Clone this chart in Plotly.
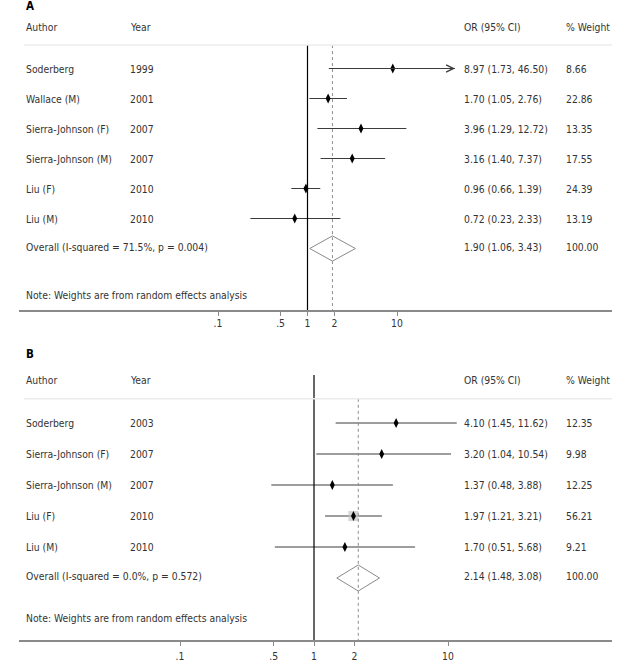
import math
import plotly.graph_objects as go

# ---------------- data ----------------
authors_a = ["Soderberg", "Wallace (M)", "Sierra-Johnson (F)", "Sierra-Johnson (M)", "Liu (F)", "Liu (M)"]
years_a = ["1999", "2001", "2007", "2007", "2010", "2010"]
or_a = [8.97, 1.70, 3.96, 3.16, 0.96, 0.72]
lo_a = [1.73, 1.05, 1.29, 1.40, 0.66, 0.23]
hi_a = [46.50, 2.76, 12.72, 7.37, 1.39, 2.33]
w_a = [8.66, 22.86, 13.35, 17.55, 24.39, 13.19]
overall_a = [1.90, 1.06, 3.43]
overall_label_a = "Overall (I-squared = 71.5%, p = 0.004)"

authors_b = ["Soderberg", "Sierra-Johnson (F)", "Sierra-Johnson (M)", "Liu (F)", "Liu (M)"]
years_b = ["2003", "2007", "2007", "2010", "2010"]
or_b = [4.10, 3.20, 1.37, 1.97, 1.70]
lo_b = [1.45, 1.04, 0.48, 1.21, 0.51]
hi_b = [11.62, 10.54, 3.88, 3.21, 5.68]
w_b = [12.35, 9.98, 12.25, 56.21, 9.21]
overall_b = [2.14, 1.48, 3.08]
overall_label_b = "Overall (I-squared = 0.0%, p = 0.572)"

tick_vals = [0.1, 0.5, 1, 2, 10]
tick_text = [".1", ".5", "1", "2", "10"]
note_text = "Note: Weights are from random effects analysis"

# ---------------- style ----------------
FONT = "DejaVu Sans Condensed, Liberation Sans Narrow, sans-serif"
FS = 10.3
TXT = "#333333"
W, H = 620, 668
CLIP_A = 44.5  # display limit of panel A (arrow beyond)

fig = go.Figure()


def panel(xa, ya, authors, years, ors, los, his, ws, overall, overall_label,
          label, label_row, clip, line_top, ay_name):
    n = len(authors)
    rows = list(range(1, n + 1))
    orow = n + 1
    # CI lines
    for r, o, lo, hi in zip(rows, ors, los, his):
        top = min(hi, clip) if clip else hi
        fig.add_trace(go.Scatter(x=[lo, top], y=[r, r], mode="lines",
                                 line=dict(color="#3c3c3c", width=1),
                                 xaxis=xa, yaxis=ya, hoverinfo="skip", showlegend=False))
        if clip and hi > clip:
            fig.add_annotation(x=math.log10(clip), y=r, ax=math.log10(lo), ay=r,
                               xref=xa, yref=ya, axref=xa, ayref=ya, text="",
                               showarrow=True, arrowhead=5, arrowsize=1.6, arrowwidth=0.9,
                               arrowcolor="#3c3c3c", standoff=0, startstandoff=0)
    # weight boxes
    fig.add_trace(go.Scatter(x=ors, y=rows, mode="markers",
                             marker=dict(symbol="square", color="#c4c4c4",
                                         size=[w * 0.18 for w in ws], line=dict(width=0)),
                             xaxis=xa, yaxis=ya, hoverinfo="skip", showlegend=False))
    # point estimates
    fig.add_trace(go.Scatter(x=ors, y=rows, mode="markers",
                             marker=dict(symbol="diamond-tall", color="black", size=7),
                             xaxis=xa, yaxis=ya, hoverinfo="skip", showlegend=False))
    # null line
    fig.add_trace(go.Scatter(x=[1, 1], y=[line_top, 100], mode="lines",
                             line=dict(color="black", width=1.2),
                             xaxis=xa, yaxis=ya, hoverinfo="skip", showlegend=False))
    # overall dotted line
    fig.add_trace(go.Scatter(x=[overall[0], overall[0]], y=[0.22, 100], mode="lines",
                             line=dict(color="#8c8c8c", width=1, dash="dot"),
                             xaxis=xa, yaxis=ya, hoverinfo="skip", showlegend=False))
    # diamond
    est, lo, hi = overall
    fig.add_trace(go.Scatter(x=[lo, est, hi, est, lo], y=[orow, orow - 0.42, orow, orow + 0.42, orow],
                             mode="lines", line=dict(color="#8a8a8a", width=1),
                             xaxis=xa, yaxis=ya, hoverinfo="skip", showlegend=False))
    # separator
    fig.add_shape(type="line", xref="paper", yref=ay_name, x0=24 / W, x1=612 / W, y0=0.22, y1=0.22,
                  line=dict(color="#ececec", width=1.5))

    # texts
    def txt(x, y, s, size=FS, color=TXT):
        fig.add_annotation(x=x / W, y=y, xref="paper", yref=ay_name, text=s, showarrow=False,
                           xanchor="left", yanchor="middle",
                           font=dict(family=FONT, size=size, color=color))
    txt(24, label_row, "<b>%s</b>" % label, size=11.5, color="black")
    txt(24, -0.39, "Author")
    txt(128, -0.39, "Year")
    txt(462, -0.39, "OR (95% CI)")
    txt(564, -0.39, "% Weight")
    for r, a, y, o, lo_, hi_, w in zip(rows, authors, years, ors, los, his, ws):
        txt(24, r, a)
        txt(128, r, y)
        txt(462, r, "%.2f (%.2f, %.2f)" % (o, lo_, hi_))
        txt(564, r, "%.2f" % w)
    txt(24, orow - 0.05, overall_label)
    txt(462, orow - 0.05, "%.2f (%.2f, %.2f)" % (est, lo, hi))
    txt(564, orow - 0.05, "100.00")


panel("x", "y", authors_a, years_a, or_a, lo_a, hi_a, w_a, overall_a, overall_label_a,
      "A", -1.08, CLIP_A, 0.22, "y")
panel("x2", "y2", authors_b, years_b, or_b, lo_b, hi_b, w_b, overall_b, overall_label_b,
      "B", -1.21, None, -0.55, "y2")

fig.add_annotation(x=24 / W, y=8.55, xref="paper", yref="y", text=note_text, showarrow=False,
                   xanchor="left", yanchor="middle", font=dict(family=FONT, size=FS, color=TXT))
fig.add_annotation(x=24 / W, y=7.29, xref="paper", yref="y2", text=note_text, showarrow=False,
                   xanchor="left", yanchor="middle", font=dict(family=FONT, size=FS, color=TXT))

xcommon = dict(type="log", showgrid=False, zeroline=False, showline=True, linecolor="#8a8a8a",
               linewidth=1.5, ticks="outside", tickcolor="#8a8a8a", ticklen=4, tickwidth=1,
               tickvals=tick_vals, ticktext=tick_text, domain=[19 / W, 612 / W],
               tickfont=dict(family=FONT, size=FS, color=TXT), fixedrange=True)
fig.update_layout(
    width=W, height=H, margin=dict(l=0, r=0, t=0, b=0),
    paper_bgcolor="white", plot_bgcolor="white", showlegend=False,
    xaxis=dict(xcommon, anchor="y", range=[(19 - 307.5) / 89.5, (612 - 307.5) / 89.5],
               ticklabelstandoff=-1),
    yaxis=dict(domain=[1 - 310 / H, 1], range=[(310 - 38.5) / 30, (0 - 38.5) / 30], visible=False,
               fixedrange=True),
    xaxis2=dict(xcommon, anchor="y2", range=[(19 - 314) / 134, (612 - 314) / 134], ticklabelstandoff=2),
    yaxis2=dict(domain=[1 - 640 / H, 1 - 336 / H], range=[(640 - 392) / 31, (336 - 392) / 31],
                visible=False, fixedrange=True),
)

fig.write_html("out.html")
